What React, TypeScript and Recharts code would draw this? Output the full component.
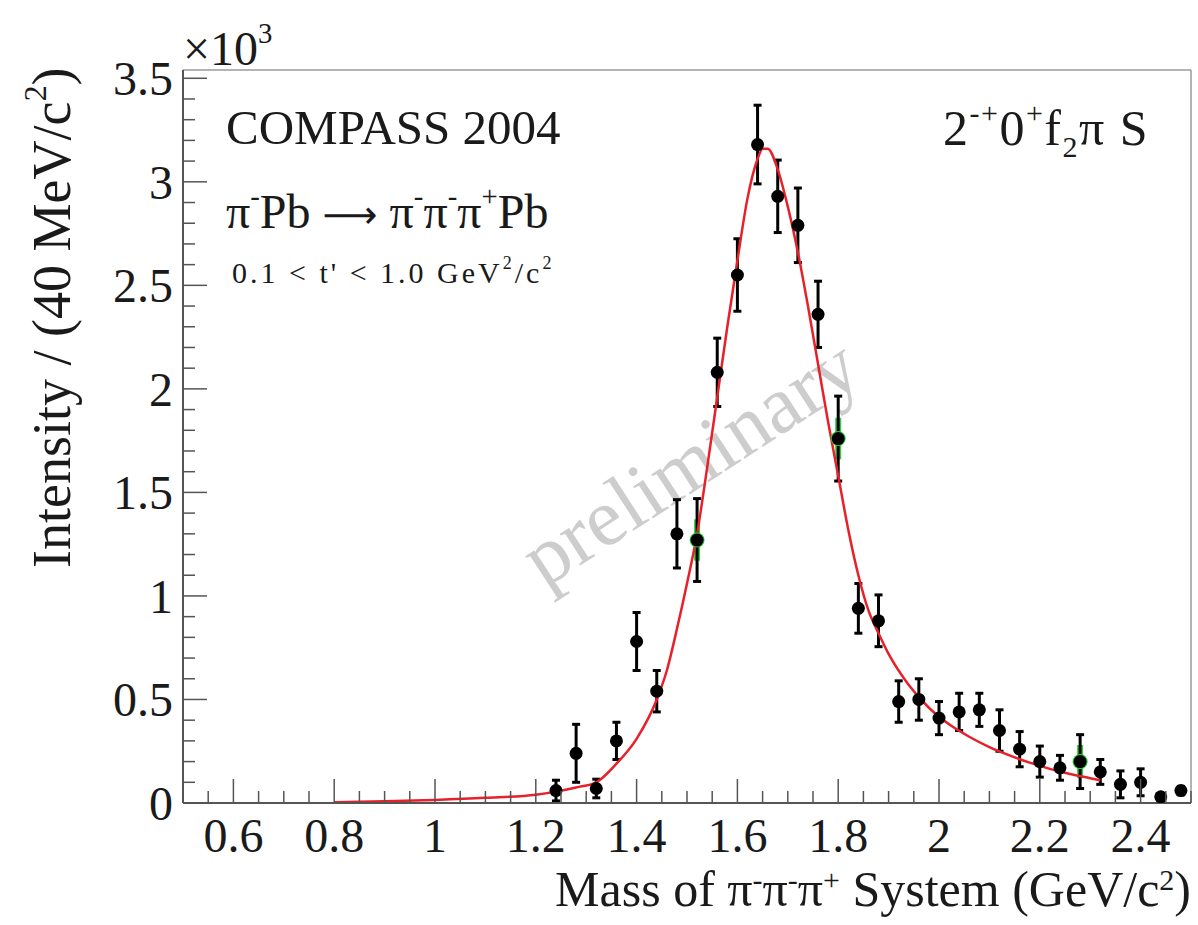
import { ComposedChart, Scatter, Line, XAxis, YAxis, ErrorBar, ReferenceLine } from 'recharts'

// Measured points (intensity in units of 10^3 per 40 MeV/c^2)
const MASS = [1.24, 1.28, 1.32, 1.36, 1.4, 1.44, 1.48, 1.52, 1.56, 1.6, 1.64, 1.68, 1.72, 1.76, 1.8, 1.84, 1.88, 1.92, 1.96, 2.0, 2.04, 2.08, 2.12, 2.16, 2.2, 2.24, 2.28, 2.32, 2.36, 2.4, 2.44, 2.48]
const INTENSITY = [0.06, 0.24, 0.07, 0.3, 0.78, 0.54, 1.3, 1.27, 2.08, 2.55, 3.18, 2.93, 2.79, 2.36, 1.76, 0.94, 0.88, 0.49, 0.5, 0.41, 0.44, 0.45, 0.35, 0.26, 0.2, 0.17, 0.2, 0.15, 0.09, 0.1, 0.03, 0.06]
const ERROR = [0.05, 0.14, 0.045, 0.09, 0.14, 0.1, 0.165, 0.2, 0.165, 0.175, 0.19, 0.175, 0.18, 0.16, 0.205, 0.12, 0.125, 0.1, 0.1, 0.08, 0.09, 0.08, 0.1, 0.085, 0.075, 0.06, 0.13, 0.06, 0.065, 0.065, 0.01, 0.02]

// Green (systematic) markers peeking out under three of the points
const GREEN_MASS = [1.52, 1.8, 2.28]
const GREEN_INTENSITY = [1.27, 1.76, 0.2]
const GREEN_ERROR = [0.1, 0.1, 0.08]

// Resonance fit curve
const FIT_MASS = [0.8, 0.9, 1.0, 1.1, 1.2, 1.24, 1.28, 1.32, 1.36, 1.4, 1.44, 1.46, 1.48, 1.5, 1.52, 1.54, 1.56, 1.58, 1.6, 1.62, 1.64, 1.65, 1.66, 1.68, 1.7, 1.72, 1.74, 1.76, 1.78, 1.8, 1.82, 1.84, 1.86, 1.88, 1.9, 1.94, 1.98, 2.02, 2.06, 2.1, 2.14, 2.18, 2.22, 2.26, 2.3, 2.32]
const FIT_VALUE = [0.003, 0.008, 0.015, 0.025, 0.04, 0.055, 0.075, 0.1, 0.19, 0.31, 0.5, 0.64, 0.84, 1.06, 1.3, 1.62, 1.96, 2.3, 2.62, 2.92, 3.11, 3.16, 3.16, 3.06, 2.88, 2.66, 2.4, 2.12, 1.84, 1.58, 1.32, 1.1, 0.93, 0.82, 0.72, 0.57, 0.46, 0.38, 0.32, 0.27, 0.23, 0.195, 0.165, 0.14, 0.12, 0.11]

const X_LABELS = [0.6, 0.8, 1, 1.2, 1.4, 1.6, 1.8, 2, 2.2, 2.4]
const Y_LABELS = [0, 0.5, 1, 1.5, 2, 2.5, 3, 3.5]
const X_DOMAIN = [0.5, 2.5]
const Y_DOMAIN = [0, 3.54]

const FONT = '"Liberation Serif", "Times New Roman", serif'
const INK = '#1a1a1a'
const AXIS = '#555'
const FRAME = '#9a9a9a'
const RED = '#e8202a'
const GREEN = '#2ecc40'

// minor ticks every 0.05 on x, 0.1 on y (decoration only)
const X_TICKS = Array.from({ length: 41 }, (_, i) => Math.round((0.5 + i * 0.05) * 100) / 100)
const Y_TICKS = Array.from({ length: 36 }, (_, i) => Math.round(i) / 10)

const points = MASS.map((m, i) => ({ m, v: INTENSITY[i], e: ERROR[i] }))
const greenPoints = GREEN_MASS.map((m, i) => ({ m, v: GREEN_INTENSITY[i], e: GREEN_ERROR[i] }))
const fit = FIT_MASS.map((m, i) => ({ m, v: FIT_VALUE[i] }))

const isOn = (list: number[], v: number) => list.some((t) => Math.abs(t - v) < 1e-6)

function XTick(props: any) {
  const { x, y, payload } = props
  const major = isOn(X_LABELS, payload.value)
  return (
    <g>
      <line x1={x} x2={x} y1={y} y2={y - (major ? 24 : 12)} stroke={AXIS} strokeWidth={1.5} />
      {major && (
        <text x={x} y={y + 49} textAnchor="middle" fontSize={48} fill={INK} fontFamily={FONT}>
          {String(payload.value)}
        </text>
      )}
    </g>
  )
}

function YTick(props: any) {
  const { x, y, payload } = props
  const major = isOn(Y_LABELS, payload.value)
  return (
    <g>
      <line x1={x} x2={x + (major ? 24 : 12)} y1={y} y2={y} stroke={AXIS} strokeWidth={1.5} />
      {major && (
        <text x={x - 10} y={y + 17} textAnchor="end" fontSize={48} fill={INK} fontFamily={FONT}>
          {String(payload.value)}
        </text>
      )}
    </g>
  )
}

const Dot = (props: any) => <circle cx={props.cx} cy={props.cy} r={6.5} fill="#000" />
const GreenDot = (props: any) => <circle cx={props.cx} cy={props.cy} r={7.5} fill={GREEN} />

const Sup = ({ children, raise = 0.75 }: { children: any; raise?: number }) => (
  <span style={{ fontSize: '0.6em', position: 'relative', top: `-${raise}em` }}>{children}</span>
)
const Sub = ({ children }: { children: any }) => (
  <span style={{ fontSize: '0.6em', position: 'relative', top: '0.4em' }}>{children}</span>
)
const Arrow = () => (
  <span style={{ fontFamily: '"DejaVu Sans", sans-serif', fontSize: '0.8em', margin: '0 12px' }}>⟶</span>
)

function text(left: number, baseline: number, size: number, extra: any = {}) {
  return {
    position: 'absolute' as const,
    left,
    top: baseline - 0.84 * size,
    fontSize: size,
    lineHeight: `${size}px`,
    whiteSpace: 'nowrap' as const,
    color: INK,
    ...extra,
  }
}

export default function App() {
  return (
    <div style={{ position: 'absolute', left: 0, top: 0, width: 1198, height: 925, background: '#fff', fontFamily: FONT, overflow: 'hidden' }}>
      {/* watermark sits under the plot */}
      <div
        style={{
          position: 'absolute',
          left: 690 - 250,
          top: 462 - 45,
          width: 500,
          textAlign: 'center',
          fontSize: 82,
          lineHeight: '90px',
          color: '#cdcdcd',
          transform: 'rotate(-33deg)',
          transformOrigin: '250px 45px',
        }}
      >
        preliminary
      </div>

      <div style={{ position: 'absolute', left: 0, top: 0 }}>
        <ComposedChart width={1198} height={925} margin={{ top: 70, right: 7, bottom: 0, left: 0 }}>
          <XAxis
            dataKey="m"
            type="number"
            domain={X_DOMAIN}
            ticks={X_TICKS}
            interval={0}
            tick={<XTick />}
            tickLine={false}
            tickSize={0}
            tickMargin={0}
            height={122}
            axisLine={{ stroke: AXIS, strokeWidth: 2 }}
            allowDataOverflow
          />
          <YAxis
            dataKey="v"
            type="number"
            domain={Y_DOMAIN}
            ticks={Y_TICKS}
            interval={0}
            tick={<YTick />}
            tickLine={false}
            tickSize={0}
            tickMargin={0}
            width={183}
            axisLine={{ stroke: AXIS, strokeWidth: 2 }}
            allowDataOverflow
          />
          <ReferenceLine y={Y_DOMAIN[1]} stroke={FRAME} strokeWidth={1.5} ifOverflow="visible" />
          <ReferenceLine x={X_DOMAIN[1]} stroke={FRAME} strokeWidth={1.5} ifOverflow="visible" />
          <Scatter data={greenPoints} dataKey="v" shape={GreenDot} isAnimationActive={false}>
            <ErrorBar dataKey="e" direction="y" width={0} stroke={GREEN} strokeWidth={6} isAnimationActive={false} />
          </Scatter>
          <Scatter data={points} dataKey="v" shape={Dot} isAnimationActive={false}>
            <ErrorBar dataKey="e" direction="y" width={4} stroke="#000" strokeWidth={3} isAnimationActive={false} />
          </Scatter>
          <Line data={fit} dataKey="v" type="monotone" stroke={RED} strokeWidth={2.5} dot={false} activeDot={false} isAnimationActive={false} />
        </ComposedChart>
      </div>

      <div style={text(183, 65, 48)}>
        ×10<Sup>3</Sup>
      </div>
      <div style={text(226, 144, 49)}>COMPASS 2004</div>
      <div style={text(226, 228, 48)}>
        π<Sup>-</Sup>Pb<Arrow />π<Sup>-</Sup>π<Sup>-</Sup>π<Sup>+</Sup>Pb
      </div>
      <div style={text(232, 283, 30, { letterSpacing: 3 })}>
        0.1 &lt; t' &lt; 1.0 GeV<Sup>2</Sup>/c<Sup>2</Sup>
      </div>
      <div style={text(943, 145, 50, { letterSpacing: 1.5 })}>
        2<Sup>-+</Sup>0<Sup>+</Sup>f<Sub>2</Sub>π S
      </div>

      {/* axis titles */}
      <div
        style={{
          position: 'absolute',
          left: 25,
          top: 568,
          width: 498,
          textAlign: 'right',
          fontSize: 54,
          lineHeight: '54px',
          whiteSpace: 'nowrap',
          color: INK,
          transform: 'rotate(-90deg)',
          transformOrigin: 'left top',
        }}
      >
        Intensity / (40 MeV/c<Sup>2</Sup>)
      </div>
      <div style={{ ...text(0, 906, 50), width: 1191, textAlign: 'right' }}>
        Mass of π<Sup raise={0.55}>-</Sup>π<Sup raise={0.55}>-</Sup>π<Sup raise={0.55}>+</Sup> System (GeV/c<Sup raise={0.55}>2</Sup>)
      </div>
    </div>
  )
}
